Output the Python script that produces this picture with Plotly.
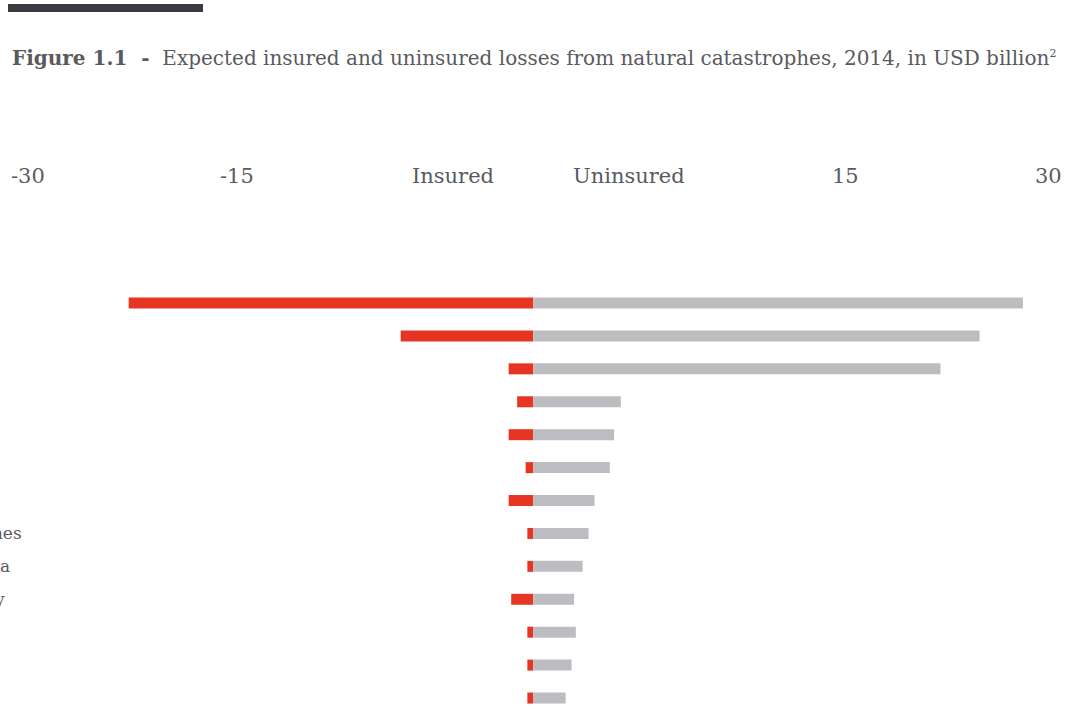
import plotly.graph_objects as go

W, H = 1070, 709

# Row labels (only the long ones reach into the visible, cropped area)
row_labels = ["", "", "", "", "", "", "", "Philippines", "Indonesia", "Germany", "", "", ""]
# Expected losses, USD billion
insured = [23.8, 7.8, 1.45, 0.95, 1.45, 0.45, 1.45, 0.35, 0.35, 1.3, 0.35, 0.35, 0.35]
uninsured = [28.8, 26.25, 23.95, 5.15, 4.75, 4.5, 3.6, 3.25, 2.9, 2.4, 2.5, 2.25, 1.9]
# Header labels
header_labels = ["-30", "-15", "Insured", "Uninsured", "15", "30"]
header_px = [28, 237, 453, 629, 845, 1048]

rows = list(range(len(insured)))
RED = "#e63522"
GREY = "#bcbcc1"
FONT = "DejaVu Serif"
TXT = "#5a5a5e"

fig = go.Figure()
fig.add_bar(y=rows, x=[-v for v in insured], orientation="h", width=0.334,
            marker=dict(color=RED, line=dict(width=0)), name="Insured")
fig.add_bar(y=rows, x=uninsured, orientation="h", width=0.334,
            marker=dict(color=GREY, line=dict(width=0)), name="Uninsured")

annotations = []
for r, lab in zip(rows, row_labels):
    if lab:
        annotations.append(dict(text=lab, xref="paper", yref="y", x=-76 / W, y=r,
                                xanchor="left", yanchor="middle", showarrow=False,
                                font=dict(family=FONT, size=17, color=TXT)))
for lab, px in zip(header_labels, header_px):
    annotations.append(dict(text=lab, xref="paper", yref="paper", x=px / W, y=1 - 176 / H,
                            xanchor="center", yanchor="middle", showarrow=False,
                            font=dict(family=FONT, size=21, color=TXT)))
annotations.append(dict(
    text="<b>Figure 1.1\u00a0\u00a0-</b>\u00a0\u00a0Expected insured and uninsured losses from natural catastrophes, 2014, in USD billion<sup><span style='font-size:11px'>2</span></sup>",
    xref="paper", yref="paper", x=10 / W, y=1 - 58 / H, xanchor="left", yanchor="middle",
    showarrow=False, font=dict(family=FONT, size=20, color=TXT)))

fig.update_layout(
    width=W, height=H, margin=dict(l=0, r=0, t=0, b=0),
    paper_bgcolor="white", plot_bgcolor="white",
    barmode="relative", showlegend=False,
    xaxis=dict(range=[-31.37, 31.57], visible=False, fixedrange=True),
    yaxis=dict(range=[12.333, -9.205], visible=False, fixedrange=True),
    annotations=annotations,
    shapes=[dict(type="rect", xref="paper", yref="paper", x0=8 / W, x1=203 / W,
                 y0=1 - 12 / H, y1=1 - 4 / H, fillcolor="#3a3a40", line=dict(width=0))],
)

fig.write_html("out.html", config=dict(displayModeBar=False))
